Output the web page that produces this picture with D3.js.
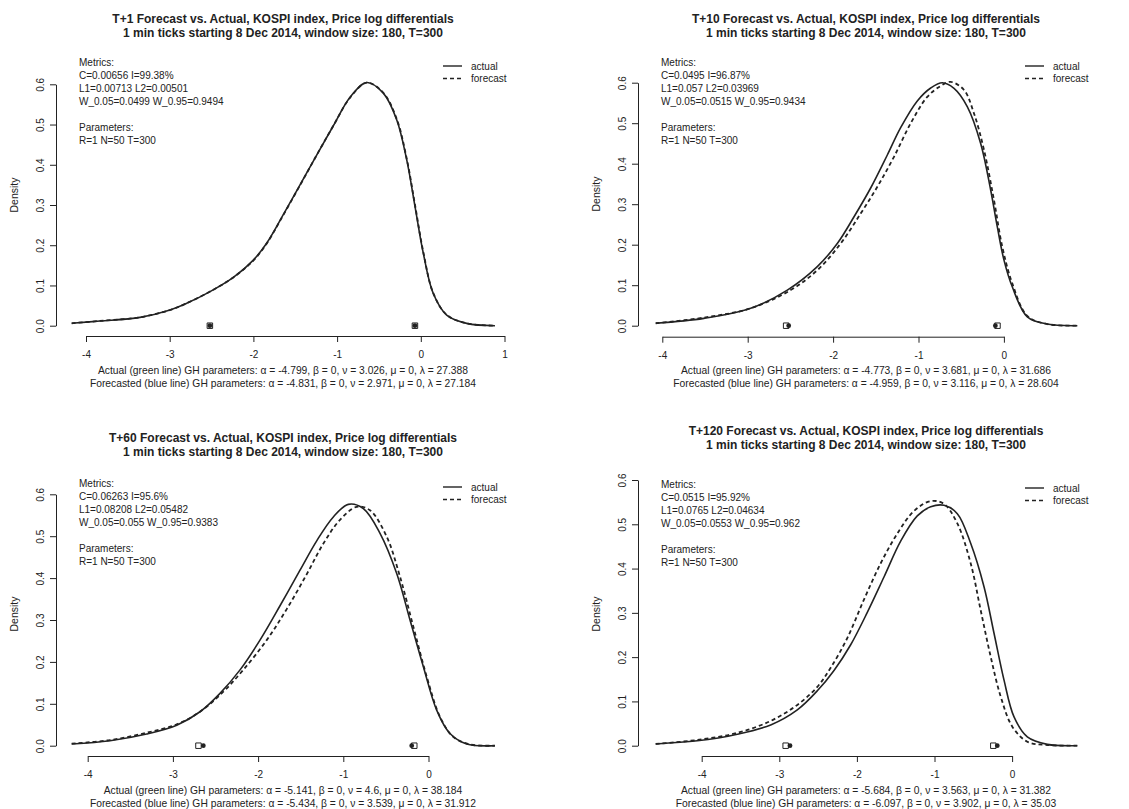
<!DOCTYPE html>
<html>
<head>
<meta charset="utf-8">
<script src="https://cdn.jsdelivr.net/npm/d3@7"></script>
<style>
  body { margin: 0; background: #fff; }
  svg text { font-family: "Liberation Sans", Arial, sans-serif; fill: #222; }
</style>
</head>
<body>
<svg id="canvas" width="1129" height="809"></svg>
<script>
// Panel titles
const horizons = ["T+1", "T+10", "T+60", "T+120"];
const subtitle = "1 min ticks starting 8 Dec 2014, window size: 180, T=300";

// Metrics per panel
const metricC = ["0.00656", "0.0495", "0.06263", "0.0515"];
const metricI = ["99.38%", "96.87%", "95.6%", "95.92%"];
const metricL1 = ["0.00713", "0.057", "0.08208", "0.0765"];
const metricL2 = ["0.00501", "0.03969", "0.05482", "0.04634"];
const metricW05 = ["0.0499", "0.0515", "0.055", "0.0553"];
const metricW95 = ["0.9494", "0.9434", "0.9383", "0.962"];

// GH parameters: alpha, beta, nu, mu, lambda
const actualGH = [
  ["-4.799", "0", "3.026", "0", "27.388"],
  ["-4.773", "0", "3.681", "0", "31.686"],
  ["-5.141", "0", "4.6", "0", "38.184"],
  ["-5.684", "0", "3.563", "0", "31.382"]
];
const forecastGH = [
  ["-4.831", "0", "2.971", "0", "27.184"],
  ["-4.959", "0", "3.116", "0", "28.604"],
  ["-5.434", "0", "3.539", "0", "31.912"],
  ["-6.097", "0", "3.902", "0", "35.03"]
];

// Axis ticks
const xTicks = [[-4, -3, -2, -1, 0, 1], [-4, -3, -2, -1, 0], [-4, -3, -2, -1, 0], [-4, -3, -2, -1, 0]];
const yTicks = [0, 0.1, 0.2, 0.3, 0.4, 0.5, 0.6];

// Quantile markers (0.05 and 0.95) on the baseline
const actualQ = [[-2.52, -0.07], [-2.55, -0.075], [-2.70, -0.167], [-2.918, -0.242]];
const forecastQ = [[-2.52, -0.07], [-2.52, -0.10], [-2.643, -0.197], [-2.862, -0.191]];

// Density curves: [x, density]
const actual1 = [[-4.171,0.006],[-3.833,0.0116],[-3.355,0.0207],[-2.996,0.039],[-2.797,0.0556],[-2.518,0.0846],[-2.24,0.120],[-2.001,0.163],[-1.842,0.205],[-1.643,0.276],[-1.443,0.350],[-1.244,0.424],[-1.045,0.497],[-0.845,0.568],[-0.646,0.6045],[-0.448,0.578],[-0.288,0.512],[-0.168,0.412],[-0.069,0.296],[0.030,0.180],[0.149,0.080],[0.309,0.0265],[0.548,0.0058],[0.886,0.0]];
const forecast1 = [[-4.171,0.006],[-3.833,0.0118],[-3.355,0.0209],[-2.996,0.039],[-2.797,0.0558],[-2.518,0.0848],[-2.24,0.120],[-2.001,0.162],[-1.842,0.204],[-1.643,0.275],[-1.443,0.349],[-1.244,0.424],[-1.045,0.497],[-0.845,0.567],[-0.646,0.6040],[-0.448,0.579],[-0.288,0.514],[-0.168,0.415],[-0.069,0.300],[0.030,0.183],[0.149,0.081],[0.309,0.027],[0.548,0.006],[0.886,0.0]];
const actual2 = [[-4.077,0.006],[-3.512,0.018],[-2.965,0.043],[-2.536,0.088],[-2.185,0.146],[-1.951,0.203],[-1.755,0.269],[-1.560,0.340],[-1.365,0.4215],[-1.209,0.489],[-1.014,0.555],[-0.857,0.587],[-0.721,0.600],[-0.584,0.586],[-0.429,0.541],[-0.272,0.450],[-0.155,0.335],[-0.077,0.244],[0.001,0.162],[0.098,0.096],[0.274,0.022],[0.508,0.004],[0.86,0.0]];
const forecast2 = [[-4.077,0.006],[-3.512,0.020],[-2.965,0.043],[-2.497,0.088],[-2.185,0.137],[-1.911,0.203],[-1.677,0.277],[-1.482,0.343],[-1.287,0.417],[-1.091,0.500],[-0.897,0.565],[-0.740,0.592],[-0.623,0.602],[-0.467,0.582],[-0.350,0.524],[-0.233,0.434],[-0.116,0.310],[-0.019,0.195],[0.098,0.1045],[0.274,0.024],[0.508,0.004],[0.86,0.0]];
const actual3 = [[-4.188,0.004],[-3.738,0.012],[-3.308,0.028],[-2.955,0.049],[-2.682,0.081],[-2.447,0.125],[-2.212,0.181],[-1.978,0.252],[-1.743,0.334],[-1.508,0.419],[-1.312,0.489],[-1.117,0.546],[-0.941,0.576],[-0.765,0.566],[-0.569,0.507],[-0.373,0.411],[-0.217,0.300],[-0.061,0.189],[0.096,0.085],[0.252,0.029],[0.448,0.004],[0.781,0.0]];
const forecast3 = [[-4.188,0.005],[-3.738,0.0135],[-3.308,0.031],[-2.955,0.051],[-2.682,0.081],[-2.408,0.129],[-2.174,0.181],[-1.899,0.252],[-1.664,0.326],[-1.430,0.409],[-1.235,0.482],[-1.039,0.539],[-0.843,0.570],[-0.687,0.562],[-0.491,0.499],[-0.334,0.403],[-0.178,0.284],[-0.021,0.165],[0.135,0.069],[0.291,0.021],[0.487,0.003],[0.781,0.0]];
const actual4 = [[-4.593,0.004],[-4.057,0.011],[-3.541,0.026],[-3.111,0.047],[-2.768,0.081],[-2.510,0.124],[-2.295,0.170],[-2.080,0.228],[-1.866,0.301],[-1.651,0.381],[-1.436,0.462],[-1.222,0.519],[-1.049,0.5395],[-0.878,0.543],[-0.706,0.524],[-0.534,0.457],[-0.362,0.359],[-0.233,0.254],[-0.104,0.148],[0.025,0.065],[0.196,0.020],[0.454,0.003],[0.840,0.0]];
const forecast4 = [[-4.593,0.004],[-4.057,0.013],[-3.541,0.029],[-3.111,0.056],[-2.768,0.092],[-2.510,0.133],[-2.338,0.176],[-2.124,0.243],[-1.909,0.330],[-1.693,0.412],[-1.479,0.479],[-1.264,0.530],[-1.049,0.5525],[-0.878,0.546],[-0.706,0.502],[-0.534,0.412],[-0.405,0.306],[-0.276,0.201],[-0.147,0.111],[0.003,0.043],[0.196,0.009],[0.454,0.0015],[0.840,0.0]];

const actualCurves = [actual1, actual2, actual3, actual4];
const forecastCurves = [forecast1, forecast2, forecast3, forecast4];

// Pixel frame of every panel (y axis x, pixel of x=-4 and x=0, pixel of density 0 and 0.6, ...)
const frames = [
  { ax: 56,  xa: 86,    xb: 420.8,  ya: 325.7, yb: 84.3,  axY: 336,   cx: 283, tY: 18.5, mY: 62,  fY: 370, dY: 195 },
  { ax: 638, xa: 662.3, xb: 1003.9, ya: 325.7, yb: 82.7,  axY: 336.7, cx: 866, tY: 18.5, mY: 62,  fY: 370, dY: 194 },
  { ax: 56,  xa: 87.7,  xb: 428.5,  ya: 745.7, yb: 494.3, axY: 756,   cx: 283, tY: 438,  mY: 483, fY: 790, dY: 614 },
  { ax: 638, xa: 701.7, xb: 1012.1, ya: 745.7, yb: 480,   axY: 756,   cx: 866, tY: 431,  mY: 484, fY: 790, dY: 614 }
];

const svg = d3.select("#canvas");
const ink = "#222";

frames.forEach((f, i) => {
  const g = svg.append("g");

  const x = d3.scaleLinear().domain([-4, 0]).range([f.xa, f.xb]);
  const y = d3.scaleLinear().domain([0, 0.6]).range([f.ya, f.yb]);

  // x axis spans only the tick range
  const ticks = xTicks[i];
  const xAxisScale = d3.scaleLinear()
    .domain([ticks[0], ticks[ticks.length - 1]])
    .range([x(ticks[0]), x(ticks[ticks.length - 1])]);

  const gx = g.append("g")
    .attr("transform", `translate(0,${f.axY})`)
    .call(d3.axisBottom(xAxisScale).tickValues(ticks).tickSize(6).tickSizeOuter(0));
  gx.selectAll("path, line").attr("stroke", ink);
  gx.selectAll("text").attr("font-size", 10).attr("y", 15).attr("fill", ink)
    .text(d => d < 0 ? "-" + Math.abs(d) : d);

  const gy = g.append("g")
    .attr("transform", `translate(${f.ax},0)`)
    .call(d3.axisLeft(y).tickValues(yTicks).tickSize(6).tickSizeOuter(0).tickFormat(d3.format(".1f")));
  gy.selectAll("path, line").attr("stroke", ink);
  gy.selectAll("text")
    .attr("x", null).attr("dy", "0.35em")
    .attr("text-anchor", "middle")
    .attr("font-size", 10)
    .attr("transform", "translate(-16,0) rotate(-90)")
    .attr("fill", ink);

  // y label
  g.append("text")
    .attr("transform", `translate(${f.ax - 42},${f.dY}) rotate(-90)`)
    .attr("text-anchor", "middle").attr("dy", "0.35em")
    .attr("font-size", 10.5)
    .text("Density");

  // curves
  const line = d3.line().x(d => x(d[0])).y(d => y(d[1])).curve(d3.curveCatmullRom.alpha(0.5));
  g.append("path").datum(actualCurves[i])
    .attr("d", line).attr("fill", "none").attr("stroke", ink).attr("stroke-width", 1.6);
  g.append("path").datum(forecastCurves[i])
    .attr("d", line).attr("fill", "none").attr("stroke", ink).attr("stroke-width", 1.8)
    .attr("stroke-dasharray", "4,3");

  // quantile markers
  g.selectAll(".qa").data(actualQ[i]).join("path")
    .attr("transform", d => `translate(${x(d)},${y(0)})`)
    .attr("d", d3.symbol(d3.symbolSquare, 30))
    .attr("fill", "#fff").attr("stroke", ink).attr("stroke-width", 1);
  g.selectAll(".qf").data(forecastQ[i]).join("path")
    .attr("transform", d => `translate(${x(d)},${y(0)})`)
    .attr("d", d3.symbol(d3.symbolCircle, 18))
    .attr("fill", ink);

  // title
  g.append("text").attr("x", f.cx).attr("y", f.tY).attr("dy", "0.35em")
    .attr("text-anchor", "middle").attr("font-size", 12).attr("font-weight", "bold")
    .text(`${horizons[i]} Forecast vs. Actual, KOSPI index, Price log differentials`);
  g.append("text").attr("x", f.cx).attr("y", f.tY + 14).attr("dy", "0.35em")
    .attr("text-anchor", "middle").attr("font-size", 12).attr("font-weight", "bold")
    .text(subtitle);

  // metrics block
  const lines = [
    "Metrics:",
    `C=${metricC[i]} I=${metricI[i]}`,
    `L1=${metricL1[i]} L2=${metricL2[i]}`,
    `W_0.05=${metricW05[i]} W_0.95=${metricW95[i]}`,
    "",
    "Parameters:",
    "R=1 N=50 T=300"
  ];
  g.selectAll(".metric").data(lines).join("text")
    .attr("x", f.ax + 23).attr("y", (d, k) => f.mY + k * 13).attr("dy", "0.35em")
    .attr("font-size", 10)
    .text(d => d);

  // legend
  const lx = f.ax + 387;
  [["actual", null], ["forecast", "4,3"]].forEach(([name, dash], k) => {
    const ly = f.mY + 4 + k * 12.5;
    g.append("line").attr("x1", lx).attr("x2", lx + 19).attr("y1", ly).attr("y2", ly)
      .attr("stroke", ink).attr("stroke-width", 1.4).attr("stroke-dasharray", dash);
    g.append("text").attr("x", lx + 28).attr("y", ly).attr("dy", "0.35em")
      .attr("font-size", 10).text(name);
  });

  // footer with GH parameters
  const gh = (p) => `α = ${p[0]}, β = ${p[1]}, ν = ${p[2]}, μ = ${p[3]}, λ = ${p[4]}`;
  g.append("text").attr("x", f.cx).attr("y", f.fY).attr("dy", "0.35em")
    .attr("text-anchor", "middle").attr("font-size", 10.3)
    .text(`Actual (green line) GH parameters: ${gh(actualGH[i])}`);
  g.append("text").attr("x", f.cx).attr("y", f.fY + 13).attr("dy", "0.35em")
    .attr("text-anchor", "middle").attr("font-size", 10.3)
    .text(`Forecasted (blue line) GH parameters: ${gh(forecastGH[i])}`);
});
</script>
</body>
</html>
